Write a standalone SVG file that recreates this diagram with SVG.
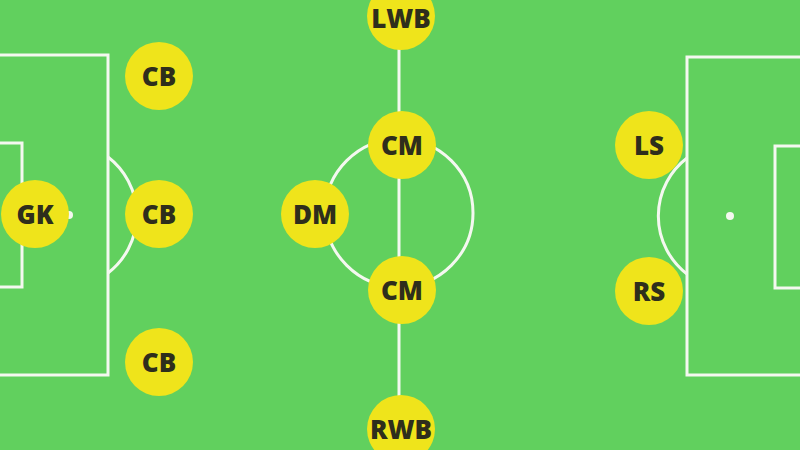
<svg xmlns="http://www.w3.org/2000/svg" width="800" height="450" viewBox="0 0 800 450">
<style>
.line{fill:none;stroke:#f4f8f0;stroke-width:3}
.spot{fill:#f4f8f0}
.node circle{fill:#efe41b}
.node text{font-family:"Open Sans","DejaVu Sans",sans-serif;font-weight:800;font-size:26px;fill:#2e2e1c;text-anchor:middle;dominant-baseline:central}
</style>
<rect width="800" height="450" fill="#61d05e"/>
<g id="pitch-lines">
<line class="line" x1="399" y1="0" x2="399" y2="450"/>
<circle class="line" cx="399" cy="213" r="74"/>
<rect class="line" x="-5" y="55" width="113" height="320"/>
<rect class="line" x="-5" y="143" width="27" height="144"/>
<path class="line" d="M108 157 A73 73 0 0 1 108 273"/>
<circle class="spot" cx="69" cy="215" r="4"/>
<rect class="line" x="687" y="57" width="120" height="318"/>
<rect class="line" x="775" y="146" width="30" height="142"/>
<path class="line" d="M687 158 A73 73 0 0 0 687 274"/>
<circle class="spot" cx="730" cy="216" r="4"/>
</g>
<g id="GK" class="node"><circle cx="35" cy="214" r="34"/><text x="35" y="214">GK</text></g>
<g id="CB1" class="node"><circle cx="159" cy="76" r="34"/><text x="159" y="76">CB</text></g>
<g id="CB2" class="node"><circle cx="159" cy="214" r="34"/><text x="159" y="214">CB</text></g>
<g id="CB3" class="node"><circle cx="159" cy="362" r="34"/><text x="159" y="362">CB</text></g>
<g id="DM" class="node"><circle cx="315" cy="214" r="34"/><text x="315" y="214">DM</text></g>
<g id="LWB" class="node"><circle cx="401" cy="16" r="34"/><text x="401" y="18">LWB</text></g>
<g id="CM1" class="node"><circle cx="402" cy="145" r="34"/><text x="402" y="145">CM</text></g>
<g id="CM2" class="node"><circle cx="402" cy="290" r="34"/><text x="402" y="290">CM</text></g>
<g id="RWB" class="node"><circle cx="401" cy="429" r="34"/><text x="401" y="429">RWB</text></g>
<g id="LS" class="node"><circle cx="649" cy="145" r="34"/><text x="649" y="145">LS</text></g>
<g id="RS" class="node"><circle cx="649" cy="291" r="34"/><text x="649" y="291">RS</text></g>
</svg>
